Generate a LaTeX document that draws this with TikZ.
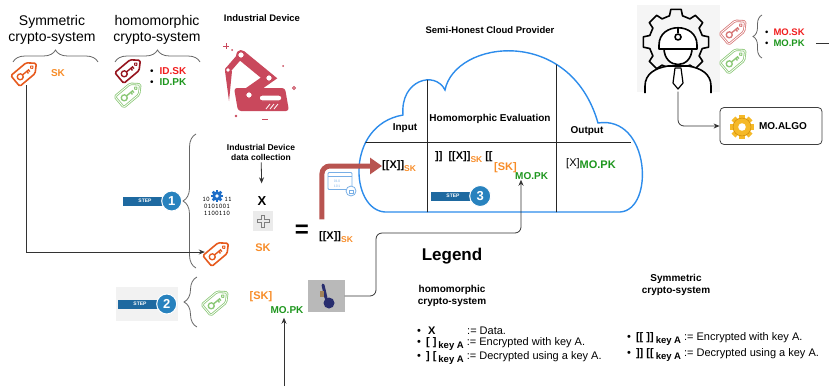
\documentclass[tikz,border=0pt]{standalone}
\usepackage{fontspec}
\setmainfont{Liberation Sans}
\usetikzlibrary{positioning,arrows.meta,decorations.pathreplacing,calc}

\definecolor{skorange}{RGB}{247,140,40}
\definecolor{idred}{RGB}{240,30,30}
\definecolor{pkgreen}{RGB}{30,150,30}
\definecolor{cloudblue}{RGB}{45,140,235}
\definecolor{arrowred}{RGB}{184,84,80}
\definecolor{robotpink}{RGB}{201,72,92}
\definecolor{stepblue}{RGB}{30,105,160}
\definecolor{stepcircle}{RGB}{40,130,190}
\definecolor{tagdark}{RGB}{150,20,30}
\definecolor{taglred}{RGB}{215,120,120}
\definecolor{taglgreen}{RGB}{140,200,120}
\definecolor{tagorange}{RGB}{230,90,30}
\definecolor{gearblue}{RGB}{30,110,200}
\definecolor{lockblue}{RGB}{120,175,230}
\definecolor{keygray}{RGB}{185,185,185}
\definecolor{navykey}{RGB}{40,45,110}
\definecolor{keytan}{RGB}{160,130,90}
\definecolor{gold}{RGB}{245,185,40}
\definecolor{gearedge}{RGB}{200,130,0}

% ciphertext with a coloured key subscript
\newcommand{\cipher}[3]{\textbf{#1}\raisebox{-3pt}{\fontsize{8.5}{9}\selectfont\bfseries\textcolor{#2}{#3}}}
\newcommand{\keyA}{\raisebox{-3pt}{\bfseries\fontsize{9.5}{10}\selectfont key A}\hspace{3pt}}

% key tag icon: name, centre, colour, extra outline style
\newcommand{\keytag}[4]{%
  \node[minimum size=26pt,inner sep=0pt] (#1) at #2 {};
  \begin{scope}[shift={(#1.center)},rotate=40,#3,line join=round]
    \draw[line width=1.6pt,rounded corners=1.5pt,#4]
      (-14,-7) -- (6,-7) -- (13.5,0) -- (6,7) -- (-14,7) -- cycle;
    \draw[line width=0.9pt] (7.5,0) circle (1.6);
    \draw[line width=1.4pt] (-7.5,0) circle (3) (-4.5,0) -- (4,0)
      (1,0) -- (1,2.7) (3.2,0) -- (3.2,2.2);
  \end{scope}}

% small gear: centre, radius, fill, outline
\newcommand{\cog}[4]{%
  \begin{scope}[shift={#1}]
    \foreach \a in {0,45,...,315}
      \fill[#3,rotate=\a] (-0.3*#2,0) rectangle (0.3*#2,1.35*#2);
    \filldraw[fill=#3,draw=#4] (0,0) circle (#2);
    \fill[white] (0,0) circle (0.42*#2);
  \end{scope}}

\begin{document}
\begin{tikzpicture}[x=1pt,y=-1pt,
    conn/.style={draw=black!80,line width=0.8pt},
    tip/.style={-{Stealth[length=6pt,width=5pt]}},
    curly/.style={decorate,decoration={brace,amplitude=#1},draw=black!60,line width=0.8pt},
    curly/.default=12pt,
    lbl/.style={font=\bfseries\fontsize{10}{12}\selectfont,inner sep=0pt},
    big/.style={font=\bfseries\fontsize{11}{12}\selectfont,inner sep=0pt},
    title/.style={font=\fontsize{14}{16}\selectfont,align=center,inner sep=0pt},
    legtext/.style={font=\fontsize{11}{12}\selectfont,anchor=west,inner sep=0pt},
    bits/.style={font=\ttfamily\fontsize{7}{7}\selectfont,inner sep=0pt},
    stepbar/.style={fill=stepblue,text=white,font=\bfseries\fontsize{5}{5}\selectfont,
      minimum width=44pt,minimum height=9pt,inner sep=0pt},
    stepdisc/.style={circle,fill=stepcircle,draw=white,line width=1pt,text=white,
      font=\bfseries\fontsize{13}{13}\selectfont,minimum size=20pt,inner sep=0pt}]

\useasboundingbox (0,0) rectangle (829,386);

% Key owners
\node[title] (symTitle) at (52,30) {Symmetric\\crypto-system};
\node[title] (homTitle) at (157,30) {homomorphic\\crypto-system};
\draw[curly] (13,62) -- (98,62);
\draw[curly] (115,62) -- (200,62);

\keytag{symKey}{(26,72)}{tagorange}{}
\node[lbl,text=skorange] (symSK) at (58,73) {SK};
\keytag{idSKtag}{(130,69)}{tagdark}{}
\keytag{idPKtag}{(130,93)}{taglgreen}{line width=0.8pt,double=white,double distance=0.8pt}
\node[lbl,anchor=west] (idSK) at (150,71) {{\mdseries\textbullet}\hspace{6pt}\textcolor{idred}{ID.SK}};
\node[lbl,anchor=west] (idPK) at (150,82) {{\mdseries\textbullet}\hspace{6pt}\textcolor{pkgreen}{ID.PK}};

% Industrial device
\node[lbl,font=\bfseries\fontsize{9.5}{11}\selectfont] (devTitle) at (262,18) {Industrial Device};
\begin{scope}[robotpink]
  \fill[rounded corners=3pt] (234,88) -- (285,88) -- (289,111) -- (238,111) -- cycle;
  \draw[line width=10pt,line cap=round] (249,92) -- (269,78) -- (241,55);
  \draw[line width=6pt,line cap=round] (241,55) -- (228,70);
  \fill (225,71) -- (232,71) -- (229,101) -- cycle;
  \draw[fill=white,line width=1.2pt] (269,78) circle (3.4) (241,55) circle (3.4)
    (228,70) circle (2.4) (249,95) circle (3.4);
  \draw[fill=white,line width=1.2pt,rounded corners=3pt] (259,95) rectangle (282,101);
  \draw[white,line width=0.8pt] (266,109) -- (270,104) (270,109) -- (274,104) (274,109) -- (278,104);
  \fill (232,50) circle (1) (283,66) circle (1) (236,116) circle (1.3);
  \draw[line width=0.8pt] (294,88) circle (1.5);
  \draw[line width=0.8pt] (223,46) -- (229,46) (226,43) -- (226,49);
  \draw[line width=1pt] (262,119) -- (268,119);
\end{scope}

% Step 1: data collection
\draw[curly=13pt] (196,268) -- (196,134);
\node[stepbar] (stepOneBar) at (145,201) {STEP};
\node[stepdisc,right=-6pt of stepOneBar] (stepOne) {1};

\cog{(217,196)}{4.5}{gearblue}{gearblue}
\node[bits] (bitsA) at (206,199) {10};
\node[bits] (bitsB) at (228,199) {11};
\node[bits] (bitsC) at (217,206) {0101001};
\node[bits] (bitsD) at (217,213) {1100110};

\node[lbl,font=\bfseries\fontsize{8.5}{10}\selectfont,align=center] (collect) at (261,152) {Industrial Device\\data collection};
\node[lbl,font=\bfseries\fontsize{13}{13}\selectfont] (dataX) at (262,201) {X};
\draw[conn,tip,shorten <=2pt,shorten >=13pt] (collect) -- (dataX);

\node[fill=black!8,minimum size=20pt,inner sep=0pt] (plusBox) at (263,221) {};
\draw[black!50,line width=0.5pt,shift={(plusBox.center)}]
  (-1.5,-6) -- (1.5,-6) -- (1.5,-1.5) -- (6,-1.5) -- (6,1.5) -- (1.5,1.5) -- (1.5,6)
  -- (-1.5,6) -- (-1.5,1.5) -- (-6,1.5) -- (-6,-1.5) -- (-1.5,-1.5) -- cycle;
\node[big,text=skorange] (devSK) at (263,248) {SK};
\keytag{devKey}{(218,252)}{tagorange}{}
\draw[conn,tip] (symKey.south) |- (devKey.west);

\node[font=\bfseries\fontsize{24}{24}\selectfont,inner sep=0pt] (equals) at (302,231) {=};
\node[big] (encX) at (336,237) {\cipher{[[X]]}{skorange}{SK}};

% upload icon
\node[draw=lockblue,line width=0.8pt,minimum width=24pt,minimum height=17pt,
  rounded corners=1pt,inner sep=0pt] (screen) at (340,181) {};
\draw[lockblue,line width=0.8pt] ([yshift=-4pt]screen.north west) -- ([yshift=-4pt]screen.north east);
\node[text=lockblue,font=\ttfamily\fontsize{4}{4.5}\selectfont,align=center,inner sep=0pt] (screenBits) at (337,184) {010\\101};
\node[circle,draw=lockblue,fill=white,line width=0.8pt,minimum size=10pt,inner sep=0pt] (lock) at (351,191) {};
\draw[lockblue,line width=0.6pt] ([xshift=-2pt,yshift=-2.5pt]lock.center) rectangle ([xshift=2pt,yshift=1pt]lock.center);

% Step 2: key wrapping
\fill[black!5] (116,287) rectangle (178,321);
\node[stepbar] (stepTwoBar) at (140,304) {STEP};
\node[stepdisc,right=-6pt of stepTwoBar] (stepTwo) {2};
\draw[curly=13pt] (197,327) -- (197,277);
\keytag{pkKey}{(217,301)}{taglgreen}{line width=0.8pt,double=white,double distance=0.8pt}
\node[big,text=skorange] (wrapSK) at (261,297) {[SK]};
\node[lbl,text=pkgreen] (wrapMO) at (287,310) {MO.PK};
\node[fill=keygray,minimum width=37pt,minimum height=32pt,inner sep=0pt] (keyBox) at (326,296) {};
\begin{scope}[navykey]
  \draw[line width=3pt,line cap=round] (323,285) -- (326,298);
  \fill (329,303) circle (5.5);
  \fill[keytan] (320,291) rectangle (324,297);
\end{scope}
\coordinate (feedIn) at (284,386);
\draw[conn,tip,shorten >=4pt] (feedIn) -- (feedIn |- wrapMO.south);

% Cloud
\node[lbl,font=\bfseries\fontsize{9.5}{11}\selectfont] (cloudTitle) at (490,30) {Semi-Honest Cloud Provider};
\draw[cloudblue,line width=1.4pt] (385,212) .. controls (350,210) and (345,125) .. (403,115)
  .. controls (400,80) and (435,70) .. (445,90)
  .. controls (455,40) and (570,25) .. (598,123)
  .. controls (650,115) and (655,210) .. (620,212) -- cycle;
\begin{scope}
  \clip (385,212) .. controls (350,210) and (345,125) .. (403,115)
    .. controls (400,80) and (435,70) .. (445,90)
    .. controls (455,40) and (570,25) .. (598,123)
    .. controls (650,115) and (655,210) .. (620,212) -- cycle;
  \draw[black!85,line width=0.9pt] (365,142) -- (631,142)
    (427,40) -- (427,220) (556,40) -- (556,220);
\end{scope}

\node[lbl] (inHead) at (405,128) {Input};
\node[lbl] (evalHead) at (490,119) {Homomorphic Evaluation};
\node[lbl] (outHead) at (587,131) {Output};

\node[big,anchor=west] (inX) at (382,166) {\cipher{[[X]]}{skorange}{SK}};
\node[big,anchor=west] (evalX) at (435,157) {]]\hspace{6pt}\cipher{[[X]]}{skorange}{SK}\hspace{3pt}[[};
\node[big,text=skorange,anchor=west] (evalSK) at (494,168) {[SK]};
\node[lbl,text=pkgreen,anchor=west] (evalMO) at (515,176) {MO.PK};
\node[big,anchor=west] (outX) at (566,164) {\raisebox{2pt}{\mdseries[X]}\textcolor{pkgreen}{MO.PK}};

\node[stepbar] (stepThreeBar) at (453,196) {STEP};
\node[stepdisc,right=-6pt of stepThreeBar,minimum size=21pt] (stepThree) {3};

% Edges into the cloud
\draw[arrowred,line width=5pt,rounded corners=8pt,shorten <=12pt,
  -{Triangle[length=12pt,width=16pt]}] ([xshift=3pt]encX.north west) |- (inX.west);
\draw[conn,tip,rounded corners=6pt] (keyBox.east) -| (376,233) -| ($(evalMO.south west)+(6,0)$);

% Model owner
\fill[black!4] (637,5) rectangle (720,92);
\begin{scope}[shift={(676,42)},line width=1.6pt,line join=round]
  \draw (-14:27) \foreach \a in {0,45,...,315} { -- (\a-14:27) -- (\a-9:33) -- (\a+9:33) -- (\a+14:27) } -- cycle;
\end{scope}
\begin{scope}[line width=1.6pt,line join=round]
  \draw[fill=white] (645,93) -- (645,86) .. controls (645,74) and (655,68) .. (668,66)
    -- (688,66) .. controls (701,68) and (711,74) .. (711,86) -- (711,93);
  \draw[fill=white] (664,48) .. controls (664,70) and (692,70) .. (692,48);
  \draw[fill=white] (659,49) -- (659,45) .. controls (659,22) and (697,22) .. (697,45) -- (697,49) -- cycle;
  \draw (678,27) -- (678,33);
  \draw[fill=white] (678,37) circle (3);
  \draw[fill=white,line width=1.2pt] (675,68) -- (681,68) -- (683,83) -- (678,89) -- (673,83) -- cycle;
\end{scope}
\node[minimum width=83pt,minimum height=87pt,inner sep=0pt] (engineer) at (678,48) {};

\keytag{moSKtag}{(735,30)}{taglred}{line width=0.8pt,double=white,double distance=0.8pt}
\keytag{moPKtag}{(735,59)}{taglgreen}{line width=0.8pt,double=white,double distance=0.8pt}
\draw[curly=9pt] (762,58) -- (762,15);
\node[lbl,anchor=west,font=\bfseries\fontsize{9.5}{11}\selectfont] (moSK) at (765,32) {{\mdseries\textbullet}\hspace{5pt}\textcolor{idred}{MO.SK}};
\node[lbl,anchor=west,font=\bfseries\fontsize{9.5}{11}\selectfont] (moPK) at (765,43) {{\mdseries\textbullet}\hspace{5pt}\textcolor{pkgreen}{MO.PK}};
\coordinate (moOut) at (829,43);
\draw[conn] ([xshift=11pt]moPK.east) -- (moOut);

\node[lbl,draw=black!75,line width=0.8pt,rounded corners=4pt,minimum width=102pt,
  minimum height=37pt] (algo) at (771,126) {\hspace{24pt}MO.ALGO};
\cog{(742,127)}{9}{gold}{gearedge}
\draw[conn,tip,rounded corners=6pt] (engineer.south) |- (algo.west);

% Legend
\node[lbl,font=\bfseries\fontsize{17}{20}\selectfont] (legend) at (452,256) {Legend};
\node[lbl,align=center] (legHom) at (452,296) {homomorphic\\crypto-system};
\node[lbl,align=center] (legSym) at (676,285) {Symmetric\\crypto-system};

\node[legtext] (lgDataB) at (417,331) {\textbullet\hspace{7pt}\textbf{X}};
\node[legtext] (lgData) at (467,331) {:= Data.};
\node[legtext] (lgHomE) at (417,344) {\textbullet\hspace{5pt}\textbf{[ ]}\hspace{2pt}\keyA:= Encrypted with key A.};
\node[legtext] (lgHomD) at (417,358) {\textbullet\hspace{5pt}\textbf{] [}\hspace{2pt}\keyA:= Decrypted using a key A.};
\node[legtext] (lgSymE) at (627,339) {\textbullet\hspace{5pt}\textbf{[[ ]]}\hspace{2pt}\keyA:= Encrypted with key A.};
\node[legtext] (lgSymD) at (627,355) {\textbullet\hspace{5pt}\textbf{]] [[}\hspace{2pt}\keyA:= Decrypted using a key A.};

\end{tikzpicture}
\end{document}
